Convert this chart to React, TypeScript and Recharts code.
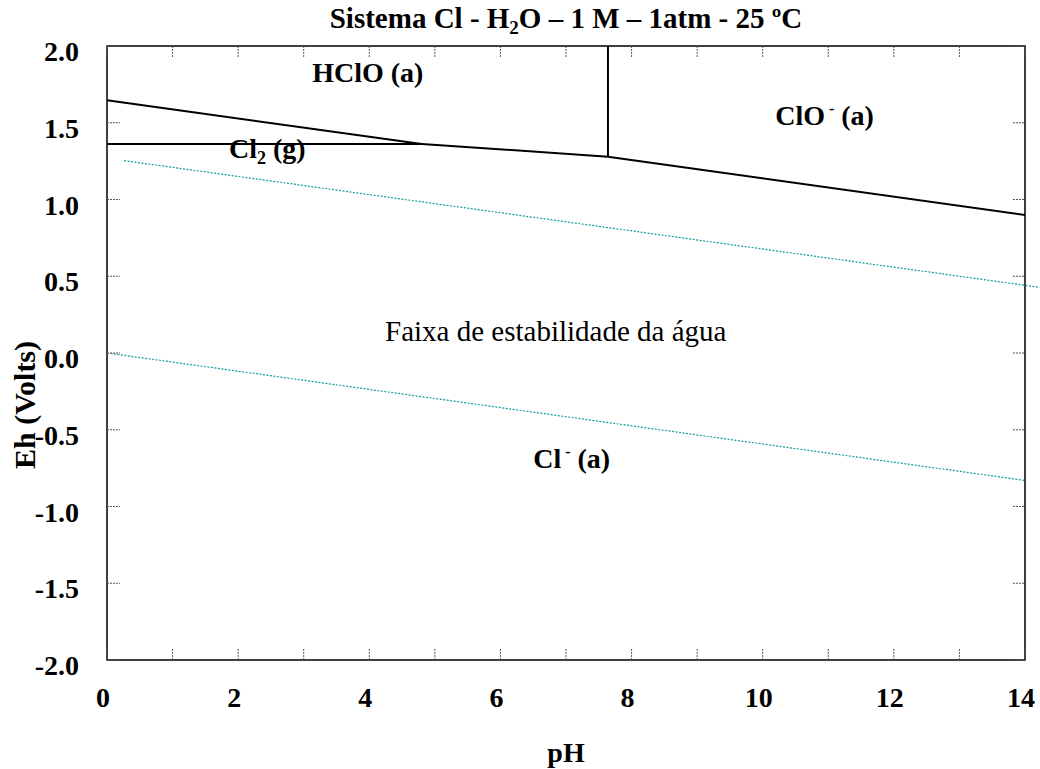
import React from "react";
import {
  LineChart,
  Line,
  XAxis,
  YAxis,
  ReferenceLine,
  ReferenceArea,
  ReferenceDot,
  Label,
} from "recharts";

// ---- data ----
const xTicks = [0, 1, 2, 3, 4, 5, 6, 7, 8, 9, 10, 11, 12, 13, 14];
const xLabelValues = [0, 2, 4, 6, 8, 10, 12, 14];
const yTicks = [-2, -1.5, -1, -0.5, 0, 0.5, 1, 1.5, 2];

const hcloCl2 = [
  { ph: 0, e: 1.646 },
  { ph: 4.8, e: 1.362 },
];
const cl2Cl = [
  { ph: 0, e: 1.362 },
  { ph: 4.8, e: 1.362 },
];
const hcloCl = [
  { ph: 4.8, e: 1.362 },
  { ph: 7.64, e: 1.279 },
];
const hcloClo = [
  { ph: 7.64, e: 1.279 },
  { ph: 7.64, e: 2.0 },
];
const cloCl = [
  { ph: 7.64, e: 1.279 },
  { ph: 14, e: 0.899 },
];
const o2Line = [
  { ph: 0.26, e: 1.253 },
  { ph: 14.22, e: 0.428 },
];
const h2Line = [
  { ph: 0, e: 0.0 },
  { ph: 14, e: -0.83 },
];

const regionLabels = [
  { id: "hclo", ph: 3.13, e: 1.765 },
  { id: "clo", ph: 10.19, e: 1.485 },
  { id: "cl2", ph: 1.86, e: 1.27 },
  { id: "water", ph: 4.24, e: 0.081 },
  { id: "cl", ph: 6.5, e: -0.749 },
];

const TITLE = "Sistema Cl - H";
const TITLE_END = "O – 1 M – 1atm - 25 ºC";
const X_TITLE = "pH";
const Y_TITLE = "Eh (Volts)";

// ---- style ----
const FONT = '"Liberation Serif", "Times New Roman", serif';
const FS = 28;
const PLOT_W = 918;
const PLOT_H = 614;
const TEAL = "#109c9c";
const TICK_STROKE = "#555";

const XTick = (props: any) => {
  const { x, y, payload } = props;
  const v = payload.value;
  const showLabel = xLabelValues.includes(v);
  return (
    <g>
      <line x1={x} y1={y} x2={x} y2={y - 11} stroke={TICK_STROKE} strokeWidth={1} strokeDasharray="2 1" />
      <line x1={x} y1={y - PLOT_H} x2={x} y2={y - PLOT_H + 11} stroke={TICK_STROKE} strokeWidth={1} strokeDasharray="2 1" />
      {showLabel && (
        <text x={x - 4} y={y + 47} textAnchor="middle" fontFamily={FONT} fontWeight="bold" fontSize={FS} fill="#000">
          {v}
        </text>
      )}
    </g>
  );
};

const YTick = (props: any) => {
  const { x, y, payload } = props;
  const ax = x + 28;
  return (
    <g>
      <line x1={ax} y1={y} x2={ax + 13} y2={y} stroke={TICK_STROKE} strokeWidth={1} strokeDasharray="2 1" />
      <line x1={ax + PLOT_W - 12} y1={y} x2={ax + PLOT_W} y2={y} stroke={TICK_STROKE} strokeWidth={1} strokeDasharray="2 1" />
      <text x={x} y={y + 15} textAnchor="end" fontFamily={FONT} fontWeight="bold" fontSize={FS} fill="#000">
        {Number(payload.value).toFixed(1)}
      </text>
    </g>
  );
};

const TitleContent = (props: any) => {
  const vb = props.viewBox;
  return (
    <text x={vb.x + vb.width / 2} y={vb.y - 18} textAnchor="middle" fontFamily={FONT} fontWeight="bold" fontSize={29} fill="#000">
      {TITLE}
      <tspan fontSize={19} dy={6}>2</tspan>
      <tspan dy={-6}>{TITLE_END}</tspan>
    </text>
  );
};

const XTitleContent = (props: any) => {
  const vb = props.viewBox;
  return (
    <text x={vb.x + vb.width / 2} y={vb.y + 102} textAnchor="middle" fontFamily={FONT} fontWeight="bold" fontSize={FS} fill="#000">
      {X_TITLE}
    </text>
  );
};

const YTitleContent = () => {
  const cx = 35;
  const cy = 405;
  return (
    <text x={cx} y={cy} transform={`rotate(-90 ${cx} ${cy})`} textAnchor="middle" fontFamily={FONT} fontWeight="bold" fontSize={30} fill="#000">
      {Y_TITLE}
    </text>
  );
};

const renderRegionLabel = (id: string) => (p: any) => {
  const { cx, cy } = p;
  const common = { x: cx, y: cy, fontFamily: FONT, fontSize: FS, fill: "#000" };
  if (id === "hclo") {
    return <text {...common} fontWeight="bold">HClO (a)</text>;
  }
  if (id === "clo") {
    return (
      <text {...common} fontWeight="bold">
        ClO
        <tspan fontSize={16} dy={-11}> -</tspan>
        <tspan dy={11}> (a)</tspan>
      </text>
    );
  }
  if (id === "cl2") {
    return (
      <text {...common} fontWeight="bold">
        Cl
        <tspan fontSize={18} dy={6}>2</tspan>
        <tspan dy={-6}> (g)</tspan>
      </text>
    );
  }
  if (id === "cl") {
    return (
      <text {...common} fontWeight="bold">
        Cl
        <tspan fontSize={16} dy={-11}> -</tspan>
        <tspan dy={11}> (a)</tspan>
      </text>
    );
  }
  return (
    <text {...common} fontSize={29} fontWeight="normal">
      Faixa de estabilidade da água
    </text>
  );
};

const boundaries = [hcloCl2, cl2Cl, hcloCl, hcloClo, cloCl];

export default function App() {
  return (
    <div style={{ position: "absolute", left: 0, top: 0, width: 1040, height: 769, background: "#fff" }}>
      <LineChart
        width={1040}
        height={769}
        margin={{ top: 46, right: 15, bottom: 69, left: 47 }}
      >
        <XAxis
          type="number"
          dataKey="ph"
          domain={[0, 14]}
          ticks={xTicks}
          interval={0}
          tickSize={0}
          tickMargin={0}
          axisLine={false}
          tickLine={false}
          tick={<XTick />}
          height={40}
        >
          <Label content={<XTitleContent />} />
        </XAxis>
        <YAxis
          type="number"
          dataKey="e"
          domain={[-2, 2]}
          ticks={yTicks}
          interval={0}
          tickSize={0}
          tickMargin={28}
          axisLine={false}
          tickLine={false}
          tick={<YTick />}
          width={60}
        >
          <Label content={<YTitleContent />} />
        </YAxis>

        <ReferenceArea
          x1={0}
          x2={14}
          y1={-2}
          y2={2}
          fill="none"
          fillOpacity={0}
          stroke="#000"
          strokeWidth={1.5}
          label={<TitleContent />}
        />

        <ReferenceLine
          segment={[
            { x: o2Line[0].ph, y: o2Line[0].e },
            { x: o2Line[1].ph, y: o2Line[1].e },
          ]}
          ifOverflow="visible"
          stroke={TEAL}
          strokeWidth={1.2}
          strokeDasharray="2 1.5"
        />
        <ReferenceLine
          segment={[
            { x: h2Line[0].ph, y: h2Line[0].e },
            { x: h2Line[1].ph, y: h2Line[1].e },
          ]}
          ifOverflow="visible"
          stroke={TEAL}
          strokeWidth={1.2}
          strokeDasharray="2 1.5"
        />

        {boundaries.map((d, i) => (
          <Line
            key={i}
            data={d}
            dataKey="e"
            type="linear"
            stroke="#000"
            strokeWidth={2}
            dot={false}
            activeDot={false}
            isAnimationActive={false}
          />
        ))}

        {regionLabels.map((l) => (
          <ReferenceDot
            key={l.id}
            x={l.ph}
            y={l.e}
            r={0}
            ifOverflow="visible"
            shape={renderRegionLabel(l.id)}
          />
        ))}
      </LineChart>
    </div>
  );
}
